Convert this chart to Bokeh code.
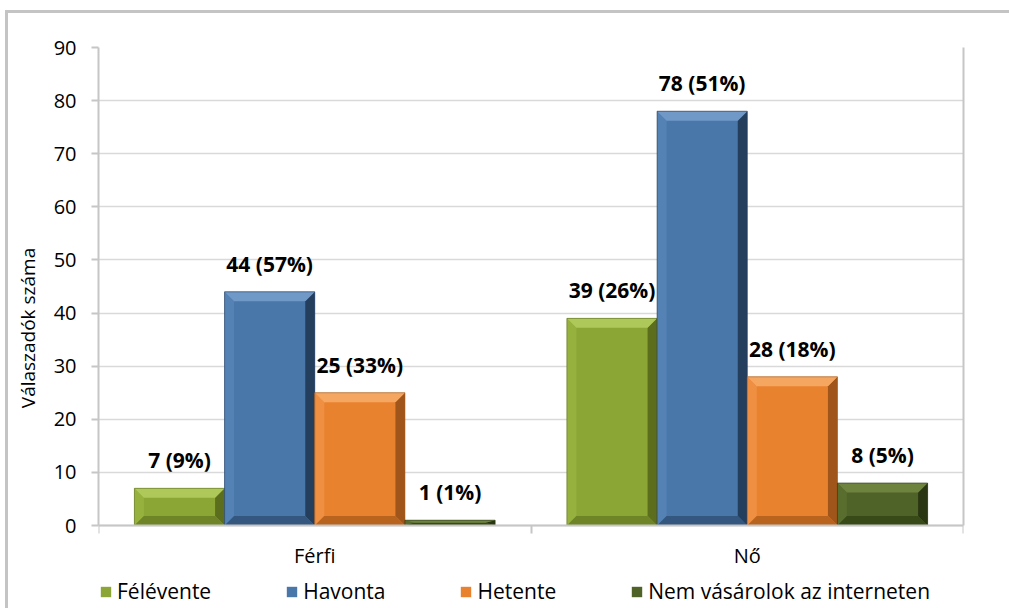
from bokeh.plotting import figure
from bokeh.models import (ColumnDataSource, FixedTicker, Legend, LegendItem, Range1d,
                          InlineStyleSheet, LinearAxis, Grid)
from bokeh.core.properties import value
from bokeh.embed import file_html
from bokeh.resources import INLINE

# ---- data ----
categories = ["Férfi", "Nő"]
series = ["Félévente", "Havonta", "Hetente", "Nem vásárolok az interneten"]
felevente = [7, 39]
havonta = [44, 78]
hetente = [25, 28]
nem_vasarol = [1, 8]
felevente_pct = [9, 26]
havonta_pct = [57, 51]
hetente_pct = [33, 18]
nem_vasarol_pct = [1, 5]
y_ticks = [0, 10, 20, 30, 40, 50, 60, 70, 80, 90]

values = [felevente, havonta, hetente, nem_vasarol]
pcts = [felevente_pct, havonta_pct, hetente_pct, nem_vasarol_pct]

# style: (face, top, left, right, bottom)
palette = [
    ("#8CA636", "#AFC85A", "#97B13F", "#5C6E1E", "#6E8426"),
    ("#4A77A9", "#7099C8", "#5582B4", "#243E5E", "#34577F"),
    ("#E8822F", "#F5A762", "#EE8F42", "#A0561A", "#B8641F"),
    ("#4F6228", "#6E833E", "#586D2E", "#2A3612", "#394A19"),
]

FONT = "Open Sans"
AX = "#C6C6C6"
n_series = len(series)
bar_w = 0.2085
offsets = [(k - (n_series - 1) / 2) * bar_w for k in range(n_series)]
y_max = y_ticks[-1]
# frame runs to the bottom of the canvas so the legend can sit inside it
y_min = -(83 / (478 / y_max))

css = """
:host::after {
  content: "";
  position: absolute;
  left: 5px; top: 10px; right: 0px; bottom: 0px;
  border-left: 3px solid #C4C4C4;
  border-top: 3px solid #C4C4C4;
  pointer-events: none;
  z-index: 10;
}
"""

p = figure(width=1009, height=608, output_backend="svg", toolbar_location=None,
           x_range=Range1d(0, len(categories)), y_range=Range1d(y_min, y_max),
           x_axis_location="above",
           min_border_left=98, min_border_right=46, min_border_top=47, min_border_bottom=0)
p.stylesheets = [InlineStyleSheet(css=css)]
p.background_fill_color = "white"
p.border_fill_color = "white"
p.outline_line_color = None

# gridlines
p.xgrid.grid_line_color = None
p.ygrid.ticker = FixedTicker(ticks=y_ticks)
p.ygrid.grid_line_color = "#D9D9D9"
p.ygrid.grid_line_width = 1.5
p.add_layout(Grid(dimension=1, ticker=FixedTicker(ticks=[y_max]),
                  grid_line_color=AX, grid_line_width=2))

# bevel sizes in data units
bx = 9.5 / 432.5
by_full = 9.5 / (478 / y_max)

items = []
for k in range(n_series):
    face, ctop, cleft, cright, cbot = palette[k]
    xs_c = [i + 0.5 + offsets[k] for i in range(len(categories))]
    src = ColumnDataSource(dict(x=xs_c, top=values[k],
                                label=[f"{v} ({q}%)" for v, q in zip(values[k], pcts[k])]))
    r = p.vbar(x="x", top="top", width=bar_w, source=src, fill_color=face,
               line_color=None)
    items.append(LegendItem(label=series[k], renderers=[r]))
    tx, ty, lx, ly, rx, ry, bxs, bys = [], [], [], [], [], [], [], []
    for c, v in zip(xs_c, values[k]):
        x0, x1 = c - bar_w / 2, c + bar_w / 2
        b = min(by_full, v / 2.0)
        tx.append([x0, x1, x1 - bx, x0 + bx]); ty.append([v, v, v - b, v - b])
        lx.append([x0, x0, x0 + bx, x0 + bx]); ly.append([v, 0, b, v - b])
        rx.append([x1, x1, x1 - bx, x1 - bx]); ry.append([v, 0, b, v - b])
        bxs.append([x0, x1, x1 - bx, x0 + bx]); bys.append([0, 0, b, b])
    p.patches(lx, ly, fill_color=cleft, line_color=None)
    p.patches(rx, ry, fill_color=cright, line_color=None)
    p.patches(bxs, bys, fill_color=cbot, line_color=None)
    p.patches(tx, ty, fill_color=ctop, line_color=None)
    p.vbar(x="x", top="top", width=bar_w, source=src, fill_color=None,
           line_color=cright, line_width=1, line_alpha=0.6)
    p.text(x="x", y="top", text="label", source=src, text_font=value(FONT),
           text_font_style="bold", text_font_size="21px", text_color="#000000",
           text_align="center", text_baseline="bottom", y_offset=-14)

# category labels under the zero line
cat_src = ColumnDataSource(dict(x=[i + 0.5 for i in range(len(categories))],
                                y=[0] * len(categories), text=categories))
p.text(x="x", y="y", text="text", source=cat_src, text_font=value(FONT),
       text_font_size="20px", text_color="#000000", text_align="center",
       text_baseline="middle", y_offset=30)

# category axis: drawn at y = 0, boundary ticks pointing down
p.xaxis.fixed_location = 0
p.xaxis.ticker = FixedTicker(ticks=[], minor_ticks=list(range(len(categories) + 1)))
p.xaxis.major_label_text_font_size = "0px"
p.xaxis.major_tick_line_color = None
p.xaxis.minor_tick_out = 0
p.xaxis.minor_tick_in = 8
p.xaxis.minor_tick_line_color = AX
p.xaxis.minor_tick_line_width = 2
p.xaxis.axis_line_color = AX
p.xaxis.axis_line_width = 2

# value axis
p.yaxis.bounds = (0, y_max)
p.yaxis.ticker = FixedTicker(ticks=y_ticks)
p.yaxis.minor_tick_line_color = None
p.yaxis.major_tick_out = 7
p.yaxis.major_tick_in = 0
p.yaxis.major_tick_line_color = AX
p.yaxis.major_tick_line_width = 2
p.yaxis.axis_line_color = AX
p.yaxis.axis_line_width = 2
p.yaxis.major_label_standoff = 15
p.yaxis.major_label_text_font = FONT
p.yaxis.major_label_text_font_size = "20px"
p.yaxis.major_label_text_color = "#000000"
p.yaxis.axis_label = "Válaszadók száma"
p.yaxis.axis_label_text_font = FONT
p.yaxis.axis_label_text_font_size = "19px"
p.yaxis.axis_label_text_font_style = "normal"
p.yaxis.axis_label_text_color = "#000000"
p.yaxis.axis_label_standoff = 10

# right border line of the plot area
right_axis = LinearAxis(bounds=(0, y_max), ticker=FixedTicker(ticks=[]),
                        major_label_text_font_size="0px", major_tick_line_color=None,
                        minor_tick_line_color=None, axis_line_color=AX, axis_line_width=2)
p.add_layout(right_axis, "right")

legend = Legend(items=items, orientation="horizontal", location=(1, 3),
                glyph_width=13, glyph_height=13, label_standoff=5, spacing=74,
                padding=0, margin=0, border_line_alpha=0, background_fill_alpha=0,
                label_text_font=FONT, label_text_font_size="21px",
                label_text_color="#000000")
p.add_layout(legend, "center")

open("out.html", "w").write(file_html(p, INLINE))
